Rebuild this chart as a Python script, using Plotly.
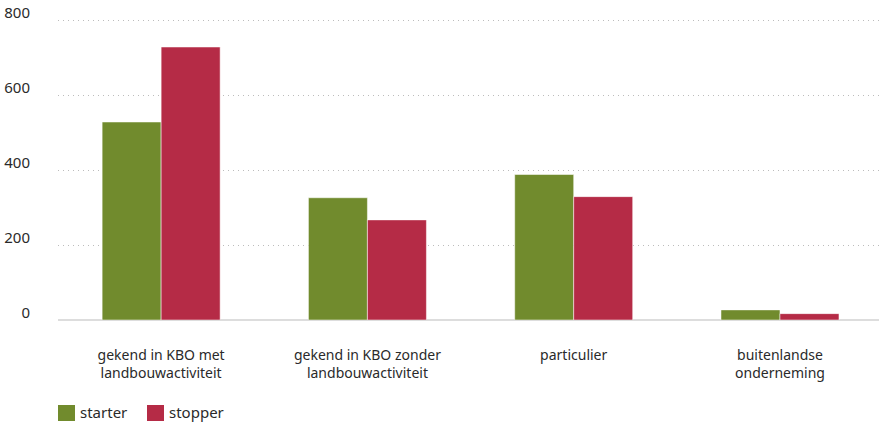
import plotly.graph_objects as go

categories = ["gekend in KBO met<br>landbouwactiviteit",
              "gekend in KBO zonder<br>landbouwactiviteit",
              "particulier",
              "buitenlandse<br>onderneming"]
starter = [528, 326, 388, 27]
stopper = [728, 267, 329, 17]
y_ticks = [0, 200, 400, 600, 800]
series_names = ["starter", "stopper"]

GREEN = "#718B2D"
RED = "#B52B46"
FONT = "Noto Sans"
TXT = "#2a2a2a"

W, H = 879, 422
L, R, T, B = 58, 0, 17, 102
PW, PH = W - L - R, H - T - B


def px(x):
    return (x - L) / PW


def py(y):
    return (H - B - y) / PH


fig = go.Figure()
fig.add_trace(go.Bar(name=series_names[0], x=categories, y=starter, marker_color=GREEN,
                     marker_line=dict(color="rgba(255,255,255,0.5)", width=1)))
fig.add_trace(go.Bar(name=series_names[1], x=categories, y=stopper, marker_color=RED,
                     marker_line=dict(color="rgba(255,255,255,0.5)", width=1)))

fig.update_layout(
    width=W, height=H,
    margin=dict(l=L, r=R, t=T, b=B),
    barmode="group", bargap=0.428, bargroupgap=0,
    plot_bgcolor="white", paper_bgcolor="white",
    font=dict(family=FONT, size=14, color=TXT),
    showlegend=False,
)
fig.update_xaxes(showgrid=False, showline=False, ticks="", ticklabelstandoff=25,
                 range=[-0.5, 3.48],
                 automargin=False, tickfont=dict(size=14, color=TXT))
fig.update_yaxes(range=[0, 808], tickvals=y_ticks, showgrid=True,
                 gridcolor="#bcbcbc", griddash="1px,4px", gridwidth=1,
                 zeroline=True, zerolinecolor="#dddddd", zerolinewidth=2,
                 ticklabelstandoff=27, ticklabelshift=-7, automargin=False,
                 tickfont=dict(size=15, color=TXT))

# manual legend
legend_items = [(series_names[0], GREEN, 58, 78), (series_names[1], RED, 147, 167)]
for name, col, sx, tx in legend_items:
    fig.add_shape(type="rect", xref="paper", yref="paper",
                  x0=px(sx), x1=px(sx + 17), y0=py(421), y1=py(405),
                  fillcolor=col, line=dict(width=0))
    fig.add_annotation(text=name, xref="paper", yref="paper", x=px(tx), y=py(412),
                       xanchor="left", yanchor="middle", showarrow=False,
                       font=dict(size=15, color=TXT))

fig.write_html("out.html", config={"displayModeBar": False},
               post_script="document.body.style.margin='0';")
